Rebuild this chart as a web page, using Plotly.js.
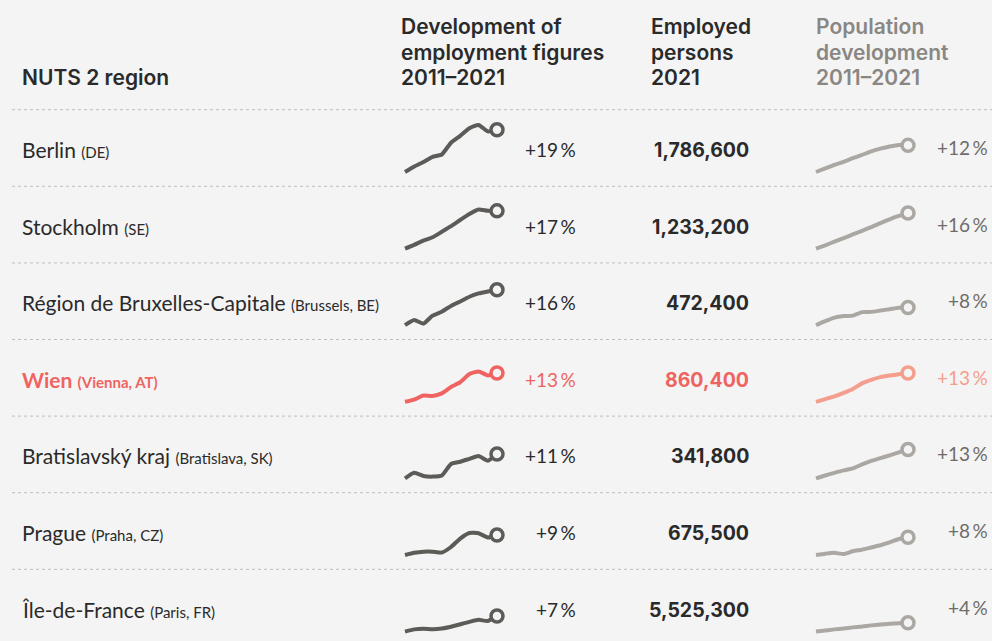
<!DOCTYPE html>
<html>
<head>
<meta charset="utf-8">
<script src="https://cdn.plot.ly/plotly-3.0.1.min.js"></script>
<style>
html,body{margin:0;padding:0;background:#f4f4f4;}
#chart{width:992px;height:641px;}
</style>
</head>
<body>
<div id="chart"></div>
<script>
// ---------- data ----------
const years = [2011, 2012, 2013, 2014, 2015, 2016, 2017, 2018, 2019, 2020, 2021];
const regions = ["Berlin", "Stockholm", "Région de Bruxelles-Capitale", "Wien", "Bratislavský kraj", "Prague", "Île-de-France"];
const regionNotes = ["(DE)", "(SE)", "(Brussels, BE)", "(Vienna, AT)", "(Bratislava, SK)", "(Praha, CZ)", "(Paris, FR)"];
const employed2021 = [1786600, 1233200, 472400, 860400, 341800, 675500, 5525300];
const employmentChange = [19, 17, 16, 13, 11, 9, 7];
const populationChange = [12, 16, 8, 13, 13, 8, 4];
const headerLines = [
  ["NUTS 2 region"],
  ["Development of", "employment figures", "2011–2021"],
  ["Employed", "persons", "2021"],
  ["Population", "development", "2011–2021"]
];

// employment development, % change vs 2011
const empBerlin     = [0, 2.5, 4.5, 6.8, 7.9, 13.2, 16.3, 19.7, 21.2, 18.3, 19];
const empStockholm  = [0, 1.7, 3.6, 5.1, 7.6, 10.1, 12.9, 15.6, 17.6, 17.0, 17];
const empBruxelles  = [0, 2.3, 0.7, 4.3, 6.1, 8.7, 10.7, 12.8, 14.3, 15.2, 16];
const empWien       = [0, 1.0, 2.8, 2.6, 3.8, 6.7, 8.8, 12.5, 13.7, 11.9, 13];
const empBratislava = [0, 2.5, 1.1, 0.8, 1.3, 6.5, 7.5, 8.8, 10.1, 8.0, 11];
const empPrague     = [0, 1.0, 1.5, 1.5, 1.1, 3.6, 7.4, 9.9, 9.8, 7.9, 9];
const empIdF        = [0, 1.0, 1.3, 1.1, 1.4, 2.2, 3.3, 4.4, 5.3, 4.8, 7];

// population development, % change vs 2011
const popBerlin     = [0, 1.6, 3.2, 4.6, 6.2, 7.7, 9.3, 10.5, 11.5, 12.2, 12];
const popStockholm  = [0, 1.5, 3.1, 4.7, 6.4, 8.0, 9.7, 11.5, 13.2, 14.7, 16];
const popBruxelles  = [0, 1.8, 3.4, 4.1, 4.3, 5.9, 6.0, 6.6, 7.2, 7.9, 8];
const popWien       = [0, 1.2, 2.4, 4.0, 5.8, 8.3, 9.9, 11.1, 11.8, 12.4, 13];
const popBratislava = [0, 1.3, 2.5, 3.6, 4.5, 6.3, 7.9, 9.1, 10.4, 11.7, 13];
const popPrague     = [0, 0.6, 1.0, 0.4, 1.7, 2.4, 3.4, 4.4, 5.7, 7.2, 8];
const popIdF        = [0, 0.5, 1.0, 1.4, 1.9, 2.3, 2.8, 3.2, 3.5, 3.8, 4];

const empSeries = [empBerlin, empStockholm, empBruxelles, empWien, empBratislava, empPrague, empIdF];
const popSeries = [popBerlin, popStockholm, popBruxelles, popWien, popBratislava, popPrague, popIdF];
const highlightIndex = 3; // Wien

// ---------- layout geometry (pixels) ----------
const W = 992, H = 641;
const BG = '#f4f4f4';
const rowTop0 = 109.7, rowH = 76.6;
const baseOffset = 62.3;   // 0 % line below row top
const pxPerPct = 2.22;
const pxPerYear = 9.2;
const empX0 = 405, popX0 = 816; // pixel of 2011
const pad = 12;

const COL = {
  text: '#2a2a2a',
  emp: '#5d5b57',
  pop: '#aba7a3',
  popText: '#6f6c69',
  empHi: '#ef6461',
  popHi: '#f49e8d',
  headGray: '#8a8783',
  sep: '#bdbdbd'
};
const BODY = 'Lato, sans-serif';
const HEAD = 'Inter, Lato, sans-serif';

const fx = px => px / W;
const fy = py => 1 - py / H;
const fmt = n => n.toLocaleString('en-US');

const traces = [];
const layout = {
  width: W, height: H,
  margin: {l: 0, r: 0, t: 0, b: 0},
  paper_bgcolor: BG, plot_bgcolor: 'rgba(0,0,0,0)',
  showlegend: false,
  font: {family: BODY, color: COL.text},
  annotations: [], shapes: []
};

function xAxisFor(px0) {
  const a = px0 - pad, b = px0 + pxPerYear * (years.length - 1) + pad;
  return {
    domain: [fx(a), fx(b)],
    range: [years[0] - pad / pxPerYear, years[years.length - 1] + pad / pxPerYear],
    visible: false, fixedrange: true
  };
}
function yAxisFor(i) {
  const top = rowTop0 + rowH * i;
  const bottom = Math.min(top + rowH, H);
  const base = top + baseOffset;
  return {
    domain: [fy(bottom), fy(top)],
    range: [(base - bottom) / pxPerPct, (base - top) / pxPerPct],
    visible: false, fixedrange: true
  };
}

for (let i = 0; i < regions.length; i++) {
  const hi = i === highlightIndex;
  const groups = [
    {series: empSeries[i], px0: empX0, color: hi ? COL.empHi : COL.emp},
    {series: popSeries[i], px0: popX0, color: hi ? COL.popHi : COL.pop}
  ];
  groups.forEach((g, k) => {
    const n = 2 * i + k + 1;
    const xa = 'x' + (n === 1 ? '' : n), ya = 'y' + (n === 1 ? '' : n);
    layout['xaxis' + (n === 1 ? '' : n)] = Object.assign(xAxisFor(g.px0), {anchor: ya});
    layout['yaxis' + (n === 1 ? '' : n)] = Object.assign(yAxisFor(i), {anchor: xa});
    traces.push({
      type: 'scatter', mode: 'lines', x: years, y: g.series,
      xaxis: xa, yaxis: ya, hoverinfo: 'skip',
      line: {color: g.color, width: 4, shape: 'spline', smoothing: 0.5}
    });
    const last = years.length - 1;
    traces.push({
      type: 'scatter', mode: 'markers', x: [years[last]], y: [g.series[last]],
      xaxis: xa, yaxis: ya, hoverinfo: 'skip', cliponaxis: false,
      marker: {symbol: 'circle', size: 12, color: BG, line: {color: g.color, width: 3.5}}
    });
  });

  const top = rowTop0 + rowH * i;
  const cy = top + rowH / 2;
  // region label
  const nameColor = hi ? COL.empHi : COL.text;
  let nameTxt = `${regions[i]} <span style="font-size:15px">${regionNotes[i]}</span>`;
  if (hi) nameTxt = '<b>' + nameTxt + '</b>';
  layout.annotations.push({
    xref: 'paper', yref: 'paper', x: fx(20), y: fy(cy + 1.5), xanchor: 'left', yanchor: 'middle',
    text: nameTxt, showarrow: false,
    font: {size: 21, color: nameColor, family: BODY}
  });
  // employment change
  layout.annotations.push({
    xref: 'paper', yref: 'paper', x: fx(578), y: fy(cy + 1.5), xanchor: 'right', yanchor: 'middle',
    text: '+' + employmentChange[i] + '\u2009%', showarrow: false,
    font: {size: 19, color: hi ? COL.empHi : COL.text}
  });
  // employed persons
  layout.annotations.push({
    xref: 'paper', yref: 'paper', x: fx(751), y: fy(cy + 2), xanchor: 'right', yanchor: 'middle',
    text: '<b>' + fmt(employed2021[i]) + '</b>', showarrow: false,
    font: {size: 19.5, color: hi ? COL.empHi : COL.text, family: HEAD}
  });
  // population change
  layout.annotations.push({
    xref: 'paper', yref: 'paper', x: fx(990), y: fy(cy - 0.5), xanchor: 'right', yanchor: 'middle',
    text: '+' + populationChange[i] + '\u2009%', showarrow: false,
    font: {size: 19, color: hi ? COL.popHi : COL.popText}
  });
  // separator line at top of row
  layout.shapes.push({
    type: 'line', xref: 'paper', yref: 'paper', x0: fx(12), x1: 1, y0: fy(top), y1: fy(top),
    line: {color: COL.sep, width: 1, dash: 'dot'}
  });
}

// headers: each line placed separately
const headX = [20, 399, 649, 814];
const headLineY = [26.5, 52.3, 78];
headerLines.forEach((lines, c) => {
  const off = 3 - lines.length;
  lines.forEach((ln, j) => {
    layout.annotations.push({
      xref: 'paper', yref: 'paper', x: fx(headX[c]), y: fy(headLineY[j + off]),
      xanchor: 'left', yanchor: 'middle', text: ln, showarrow: false,
      font: {size: 21, weight: 600, family: HEAD, color: c === 3 ? COL.headGray : COL.text}
    });
  });
});

Plotly.newPlot('chart', traces, layout, {staticPlot: true, displayModeBar: false});
</script>
</body>
</html>
